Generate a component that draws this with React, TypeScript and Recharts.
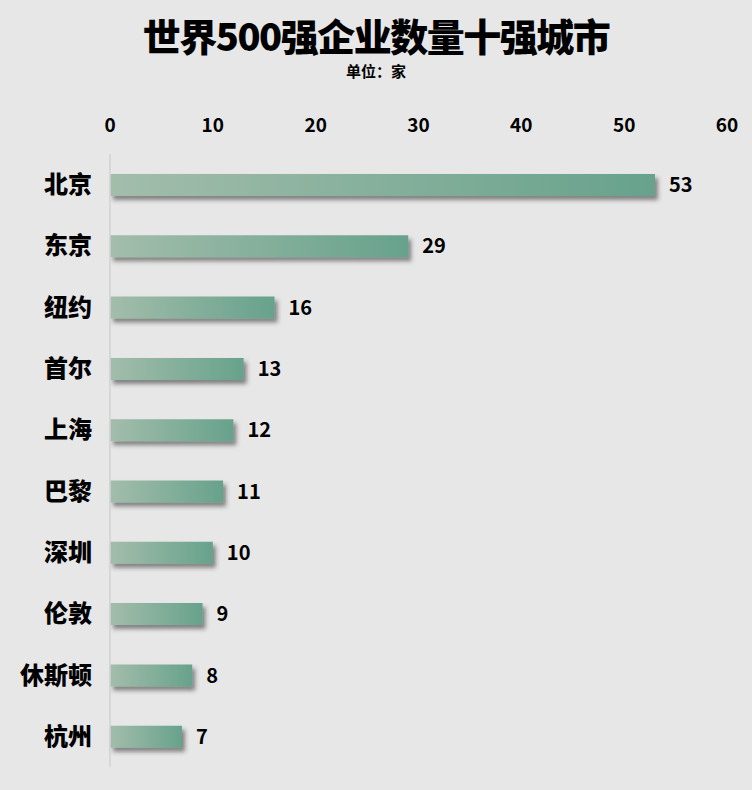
import React from 'react';
import { BarChart, Bar, XAxis, YAxis, LabelList } from 'recharts';

const cities = ['北京', '东京', '纽约', '首尔', '上海', '巴黎', '深圳', '伦敦', '休斯顿', '杭州'];
const counts = [53, 29, 16, 13, 12, 11, 10, 9, 8, 7];
const xTicks = [0, 10, 20, 30, 40, 50, 60];

const data = cities.map((city, i) => ({ city, count: counts[i] }));

const FONT = "'Noto Sans CJK SC', 'Noto Sans', sans-serif";

const App: React.FC = () => {
  return (
    <div
      style={{
        position: 'absolute',
        left: 0,
        top: 0,
        width: 752,
        height: 790,
        background: '#e7e7e7',
        fontFamily: FONT,
      }}
    >
      <div
        style={{
          position: 'absolute',
          top: 15,
          width: 752,
          textAlign: 'center',
          fontSize: 38,
          fontWeight: 900,
          lineHeight: '40px',
          color: '#000',
          letterSpacing: -1.5,
        }}
      >
        世界500强企业数量十强城市
      </div>
      <div
        style={{
          position: 'absolute',
          top: 62,
          width: 752,
          textAlign: 'center',
          fontSize: 15,
          fontWeight: 700,
          lineHeight: '18px',
          color: '#000',
        }}
      >
        单位：家
      </div>
      <BarChart
        width={752}
        height={790}
        data={data}
        layout="vertical"
        margin={{ top: 124, right: 25, bottom: 23, left: 10 }}
        barSize={22}
        style={{ position: 'absolute', left: 0, top: 0 }}
      >
        <defs>
          <linearGradient id="barGrad" x1="0" y1="0" x2="1" y2="0">
            <stop offset="0%" stopColor="#a3bdab" />
            <stop offset="100%" stopColor="#67a28c" />
          </linearGradient>
          <filter id="barShadow" x="-10%" y="-30%" width="130%" height="190%">
            <feDropShadow dx="3" dy="4" stdDeviation="2" floodColor="#333" floodOpacity="0.55" />
          </filter>
        </defs>
        <XAxis
          type="number"
          orientation="top"
          domain={[0, 60]}
          ticks={xTicks}
          axisLine={false}
          tickLine={false}
          height={30}
          tickMargin={16}
          tick={{ fill: '#000', fontSize: 19, fontWeight: 700, fontFamily: FONT }}
        />
        <YAxis
          type="category"
          dataKey="city"
          width={100}
          axisLine={{ stroke: '#d2d2d2', strokeWidth: 1.5 }}
          tickLine={false}
          tickMargin={12}
          tick={{ fill: '#000', fontSize: 24, fontWeight: 900, fontFamily: FONT }}
        />
        <Bar
          dataKey="count"
          fill="url(#barGrad)"
          filter="url(#barShadow)"
          isAnimationActive={false}
        >
          <LabelList
            dataKey="count"
            position="right"
            offset={14}
            style={{ fill: '#000', fontSize: 20, fontWeight: 700, fontFamily: FONT }}
          />
        </Bar>
      </BarChart>
    </div>
  );
};

export default App;
